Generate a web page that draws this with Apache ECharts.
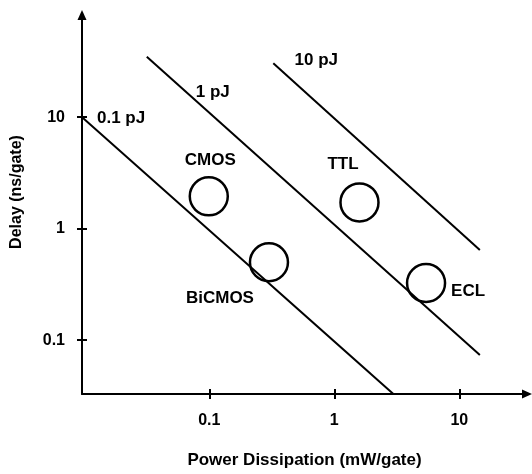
<!DOCTYPE html>
<html><head><meta charset="utf-8">
<script src="https://cdn.jsdelivr.net/npm/echarts@6/dist/echarts.min.js"></script>
<style>html,body{margin:0;padding:0;background:#fff}#c{width:532px;height:474px}</style>
</head><body><div id="c"></div>
<script>
// ---- data ----
const xTickValues = [0.1, 1, 10];
const yTickValues = [0.1, 1, 10];
const xRange = [0.00958, 34.8];
const yRange = [0.0329, 82.5];
const energyNames = ['0.1 pJ', '1 pJ', '10 pJ'];
const energyPower = [[0.0096, 2.97], [0.0316, 14.6], [0.325, 14.6]];
const energyDelay = [[10.0, 0.0329], [34.9, 0.0736], [30.4, 0.644]];
const techNames = ['CMOS', 'BiCMOS', 'TTL', 'ECL'];
const techPower = [0.099, 0.30, 1.59, 5.42];
const techDelay = [1.95, 0.50, 1.72, 0.326];

// ---- styling / layout ----
const FONT = 'Liberation Sans, Arial, Helvetica, sans-serif';
const energyLabelOffset = [[39, 1], [66, 36], [43, -3]];
const techLabelOffset = [[1.5, -36.5], [-49, 36.5], [-16.5, -38], [42, 8.5]];
const txt = {color: '#000', fontFamily: FONT, fontWeight: 'bold', fontSize: 17, opacity: 1, textBorderWidth: 0};

function tickFmt(list) {
  return function (v) {
    const r = Number(Number(v).toPrecision(3));
    return list.indexOf(r) >= 0 ? String(r) : '';
  };
}

const chart = echarts.init(document.getElementById('c'), null, {renderer: 'canvas'});

const series = [];
energyNames.forEach(function (name, i) {
  series.push({
    type: 'line',
    name: name,
    xAxisIndex: 0, yAxisIndex: 0,
    showSymbol: true, symbol: 'circle', symbolSize: 0,
    lineStyle: {color: '#000', width: 2, opacity: 1},
    itemStyle: {color: '#000', opacity: 1},
    silent: true, clip: false,
    data: energyPower[i].map(function (p, k) {
      const item = {value: [p, energyDelay[i][k]]};
      if (k === 0) {
        item.label = Object.assign({show: true, formatter: name, position: 'inside', offset: energyLabelOffset[i]}, txt);
      }
      return item;
    })
  });
});
series.push({
  type: 'scatter',
  name: 'tech',
  xAxisIndex: 0, yAxisIndex: 0,
  symbol: 'circle', symbolSize: 38,
  itemStyle: {color: 'rgba(255,255,255,0)', borderColor: '#000', borderWidth: 2.5, opacity: 1},
  silent: true,
  data: techNames.map(function (n, i) {
    return {
      value: [techPower[i], techDelay[i]],
      label: Object.assign({show: true, formatter: n, position: 'inside', offset: techLabelOffset[i]}, txt)
    };
  })
});

const baseX = {type: 'log', logBase: 10, min: xRange[0], max: xRange[1], position: 'bottom', splitLine: {show: false}};
const baseY = {type: 'log', logBase: 10, min: yRange[0], max: yRange[1], position: 'left', splitLine: {show: false}};

chart.setOption({
  animation: false,
  backgroundColor: '#fff',
  grid: {left: 82, right: 5, top: 15, bottom: 80, containLabel: false, outerBoundsMode: 'none'},
  xAxis: [
    Object.assign({}, baseX, {
      name: 'Power Dissipation (mW/gate)', nameLocation: 'middle', nameGap: 58,
      nameTextStyle: Object.assign({}, txt),
      axisLine: {show: true, onZero: false, lineStyle: {color: '#000', width: 2}, symbol: ['none', 'triangle'], symbolSize: [9, 10]},
      axisTick: {show: true, inside: false, length: 5, lineStyle: {color: '#000', width: 2}, customValues: xTickValues},
      axisLabel: {show: true, margin: 19, color: '#000', fontFamily: FONT, fontWeight: 'bold', fontSize: 16, customValues: xTickValues, formatter: tickFmt(xTickValues)},
      minorTick: {show: false}
    }),
    Object.assign({}, baseX, {
      axisLine: {show: false, onZero: false},
      axisTick: {show: true, inside: true, length: 5, lineStyle: {color: '#000', width: 2}, customValues: xTickValues},
      axisLabel: {show: false}
    })
  ],
  yAxis: [
    Object.assign({}, baseY, {
      name: 'Delay (ns/gate)', nameLocation: 'middle', nameGap: 57, nameRotate: 90,
      nameTextStyle: Object.assign({}, txt, {fontSize: 16, padding: [0, 0, 0, 25]}),
      axisLine: {show: true, onZero: false, lineStyle: {color: '#000', width: 2}, symbol: ['none', 'triangle'], symbolSize: [9, 10]},
      axisTick: {show: true, inside: false, length: 5, lineStyle: {color: '#000', width: 2}, customValues: yTickValues},
      axisLabel: {show: true, margin: 17, color: '#000', fontFamily: FONT, fontWeight: 'bold', fontSize: 16, customValues: yTickValues, formatter: tickFmt(yTickValues)},
      minorTick: {show: false}
    }),
    Object.assign({}, baseY, {
      axisLine: {show: false, onZero: false},
      axisTick: {show: true, inside: true, length: 5, lineStyle: {color: '#000', width: 2}, customValues: yTickValues},
      axisLabel: {show: false}
    })
  ],
  series: series
});
</script></body></html>
